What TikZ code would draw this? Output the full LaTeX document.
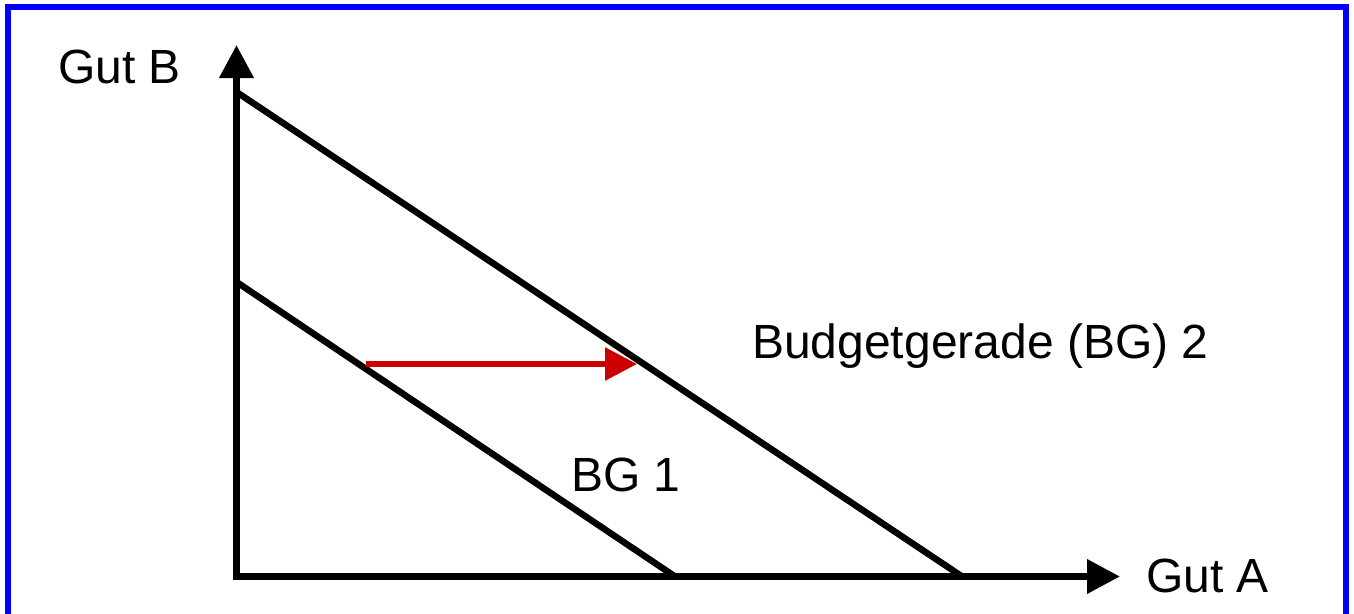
\documentclass[tikz,border=0pt]{standalone}
\usepackage{fontspec}
\setmainfont{Liberation Sans}
\usetikzlibrary{arrows.meta}
\definecolor{frameblue}{RGB}{0,0,255}
\definecolor{shiftred}{RGB}{204,0,0}
\tikzset{
  axisline/.style={line width=7pt, draw=black, {Triangle[length=33pt,width=33pt]}-{Triangle[length=33pt,width=33pt]}},
  budgetline/.style={line width=6.5pt, draw=black},
  shiftarrow/.style={line width=6pt, draw=shiftred, -{Triangle[length=32pt,width=32pt]}},
  lbl/.style={anchor=base west, inner sep=0pt, font=\fontsize{48}{57}\selectfont},
  frameline/.style={line width=6pt, draw=frameblue}
}
\begin{document}
\begin{tikzpicture}[x=1pt,y=-1pt]
\useasboundingbox (0,0) rectangle (1354,613);
\clip (0,0) rectangle (1354,613);
% frame (bottom edge lies outside the picture)
\coordinate (fbl) at (8,640);
\coordinate (ftl) at (8,7);
\coordinate (ftr) at (1345.5,7);
\coordinate (fbr) at (1345.5,640);
\draw[frameline] (fbl) -- (ftl) -- (ftr) -- (fbr);
% axes
\coordinate (O) at (236.5,576.5);
\coordinate (ytip) at (236.5,45);
\coordinate (xtip) at (1120,576.5);
\draw[axisline] (ytip) -- (O) -- (xtip);
% budget lines
\coordinate (b2) at (236.5,92);
\coordinate (a2) at (962,576.5);
\coordinate (b1) at (236.5,282);
\coordinate (a1) at (675,576.5);
\draw[budgetline] (b2) -- (a2);
\draw[budgetline] (b1) -- (a1);
% shift arrow
\coordinate (s0) at (366,364);
\coordinate (s1) at (637,364);
\draw[shiftarrow] (s0) -- (s1);
% labels
\node[lbl] (gutb) at (58,83) {Gut B};
\node[lbl] (guta) at (1146,592) {Gut A};
\node[lbl] (bg2) at (752,358) {Budgetgerade (BG) 2};
\node[lbl] (bg1) at (571,491) {BG 1};
\end{tikzpicture}
\end{document}
